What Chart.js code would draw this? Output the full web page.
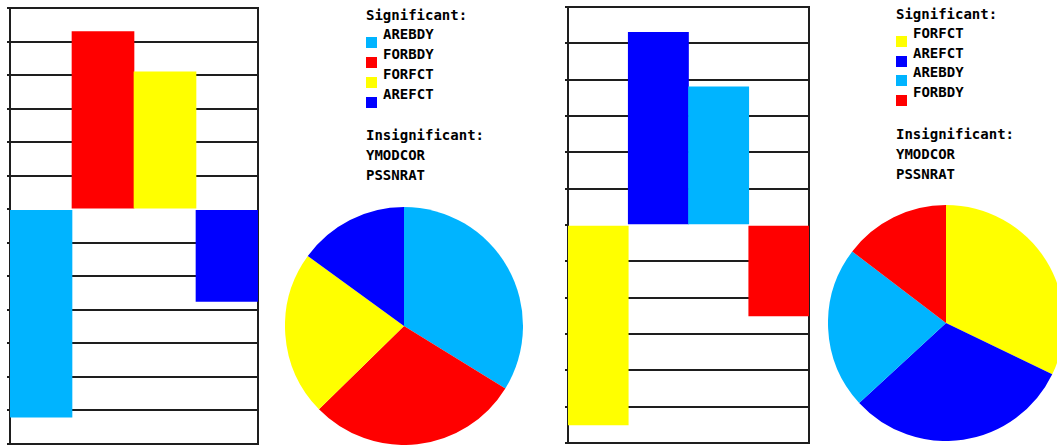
<!DOCTYPE html>
<html>
<head>
<meta charset="utf-8">
<script src="https://cdn.jsdelivr.net/npm/chart.js@4/dist/chart.umd.min.js"></script>
<style>
  html, body { margin: 0; padding: 0; background: #fff; }
  body { width: 1057px; height: 445px; position: relative; overflow: hidden; }
  canvas { position: absolute; }
  .lg { position: absolute; font-family: "DejaVu Sans Mono", monospace; font-size: 14px;
        font-weight: bold; line-height: 14px; color: #000; white-space: pre; }
  .sw { position: absolute; width: 11px; height: 11px; }
</style>
</head>
<body>
<canvas id="barLeft" width="253" height="445" style="left:7px;top:0px;width:253px;height:445px"></canvas>
<canvas id="pieLeft" width="238" height="238" style="left:285px;top:207px;width:238px;height:238px"></canvas>
<canvas id="barRight" width="246" height="445" style="left:565px;top:0px;width:246px;height:445px"></canvas>
<canvas id="pieRight" width="236" height="236" style="left:828px;top:205px;width:236px;height:236px"></canvas>

<script>
// values, bars sorted by size
var leftNames = ['AREBDY', 'FORBDY', 'FORFCT', 'AREFCT'];
var leftValues = [-6.2, 5.3, 4.1, -2.75];
var rightNames = ['FORFCT', 'AREFCT', 'AREBDY', 'FORBDY'];
var rightValues = [-5.5, 5.3, 3.8, -2.5];
var insignificant = ['YMODCOR', 'PSSNRAT'];
var leftTicks = [-7, 6];
var rightTicks = [-6, 6];

var colorOf = {
  AREBDY: '#00b4ff',
  FORBDY: '#ff0000',
  FORFCT: '#ffff00',
  AREFCT: '#0000ff'
};

function barChart(id, names, values, range, pad) {
  var ctx = document.getElementById(id);
  return new Chart(ctx, {
    type: 'bar',
    data: {
      labels: names,
      datasets: [{
        data: values,
        backgroundColor: names.map(function (n) { return colorOf[n]; }),
        borderWidth: 0,
        categoryPercentage: 1,
        barPercentage: 1
      }]
    },
    options: {
      responsive: false,
      animation: false,
      devicePixelRatio: 1,
      layout: { padding: pad },
      plugins: { legend: { display: false }, tooltip: { enabled: false } },
      scales: {
        x: { display: false },
        y: {
          min: range[0],
          max: range[1],
          ticks: { display: false, stepSize: 1 },
          grid: {
            // no line along zero, only its tick
            color: function (c) { return c.tick && c.tick.value === 0 ? 'rgba(0,0,0,0)' : '#1e1e1e'; },
            tickColor: '#1e1e1e',
            lineWidth: 2,
            tickLength: 3
          },
          border: { color: '#1e1e1e', width: 2 }
        },
        y2: {
          position: 'right',
          display: true,
          min: range[0],
          max: range[1],
          ticks: { display: false },
          grid: { display: false, drawTicks: false },
          border: { color: '#1e1e1e', width: 2 }
        }
      }
    }
  });
}

function pieChart(id, names, values) {
  var ctx = document.getElementById(id);
  return new Chart(ctx, {
    type: 'pie',
    data: {
      labels: names,
      datasets: [{
        data: values.map(function (v) { return Math.abs(v); }),
        backgroundColor: names.map(function (n) { return colorOf[n]; }),
        borderWidth: 0,
        hoverOffset: 0
      }]
    },
    options: {
      responsive: false,
      animation: false,
      devicePixelRatio: 1,
      plugins: { legend: { display: false }, tooltip: { enabled: false } }
    }
  });
}

function addText(txt, x, y) {
  var d = document.createElement('div');
  d.className = 'lg';
  d.textContent = txt;
  d.style.left = x + 'px';
  d.style.top = y + 'px';
  document.body.appendChild(d);
}

function legend(names, x, top, step) {
  addText('Significant:', x, top);
  names.forEach(function (n, i) {
    var t = top + 19 + i * step;
    var s = document.createElement('div');
    s.className = 'sw';
    s.style.left = x + 'px';
    s.style.top = (t + 10) + 'px';
    s.style.background = colorOf[n];
    document.body.appendChild(s);
    addText(n, x + 17, t);
  });
  addText('Insignificant:', x, top + 120);
  insignificant.forEach(function (n, i) {
    addText(n, x, top + 140 + i * 20);
  });
}

barChart('barLeft', leftNames, leftValues, leftTicks, { top: 8, bottom: 1, right: 2 });
pieChart('pieLeft', leftNames, leftValues);
barChart('barRight', rightNames, rightValues, rightTicks, { top: 7, bottom: 2, right: 2 });
pieChart('pieRight', rightNames, rightValues);
legend(leftNames, 366, 8, 20);
legend(rightNames, 896, 7, 19.5);
</script>
</body>
</html>
